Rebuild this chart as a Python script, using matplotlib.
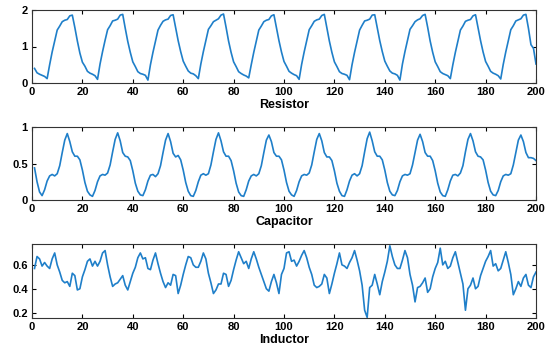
import matplotlib
matplotlib.use('Agg')
import matplotlib.pyplot as plt

# samples 1..200
samples = list(range(1, 201))

resistor = [
    0.40, 0.28, 0.24, 0.21, 0.18, 0.12, 0.50, 0.85, 1.15, 1.45, 1.56, 1.68, 1.72, 1.74, 1.84, 1.86, 1.52, 1.15, 0.82, 0.57,
    0.46, 0.32, 0.27, 0.24, 0.20, 0.10, 0.52, 0.86, 1.17, 1.46, 1.57, 1.70, 1.72, 1.75, 1.86, 1.88, 1.50, 1.14, 0.84, 0.58,
    0.45, 0.31, 0.26, 0.24, 0.21, 0.08, 0.50, 0.84, 1.15, 1.45, 1.58, 1.69, 1.73, 1.75, 1.85, 1.87, 1.52, 1.16, 0.86, 0.60,
    0.46, 0.33, 0.27, 0.25, 0.20, 0.12, 0.52, 0.86, 1.16, 1.47, 1.57, 1.68, 1.72, 1.76, 1.86, 1.89, 1.53, 1.15, 0.84, 0.58,
    0.45, 0.31, 0.26, 0.22, 0.19, 0.14, 0.50, 0.84, 1.15, 1.45, 1.56, 1.68, 1.72, 1.74, 1.84, 1.87, 1.52, 1.16, 0.85, 0.59,
    0.46, 0.32, 0.27, 0.23, 0.20, 0.10, 0.51, 0.85, 1.16, 1.46, 1.57, 1.69, 1.73, 1.75, 1.85, 1.88, 1.51, 1.15, 0.84, 0.58,
    0.45, 0.31, 0.26, 0.24, 0.21, 0.09, 0.50, 0.84, 1.15, 1.45, 1.58, 1.70, 1.72, 1.75, 1.86, 1.87, 1.52, 1.16, 0.86, 0.60,
    0.46, 0.33, 0.27, 0.25, 0.21, 0.08, 0.52, 0.86, 1.16, 1.47, 1.57, 1.68, 1.73, 1.76, 1.85, 1.88, 1.53, 1.15, 0.84, 0.58,
    0.45, 0.31, 0.26, 0.23, 0.20, 0.12, 0.50, 0.84, 1.15, 1.45, 1.56, 1.69, 1.72, 1.74, 1.84, 1.87, 1.52, 1.16, 0.85, 0.59,
    0.46, 0.32, 0.27, 0.24, 0.20, 0.11, 0.51, 0.85, 1.16, 1.46, 1.57, 1.70, 1.73, 1.76, 1.86, 1.88, 1.50, 1.05, 0.95, 0.52,
]

capacitor = [
    0.44, 0.25, 0.11, 0.06, 0.14, 0.26, 0.33, 0.35, 0.33, 0.36, 0.47, 0.65, 0.82, 0.91, 0.80, 0.66, 0.60, 0.60, 0.55, 0.41,
    0.24, 0.12, 0.07, 0.05, 0.13, 0.25, 0.33, 0.35, 0.34, 0.37, 0.48, 0.66, 0.83, 0.92, 0.81, 0.65, 0.60, 0.59, 0.54, 0.40,
    0.23, 0.12, 0.07, 0.06, 0.14, 0.26, 0.34, 0.35, 0.32, 0.36, 0.47, 0.65, 0.82, 0.91, 0.80, 0.64, 0.59, 0.61, 0.55, 0.41,
    0.24, 0.12, 0.06, 0.05, 0.13, 0.25, 0.34, 0.36, 0.34, 0.36, 0.48, 0.66, 0.83, 0.92, 0.81, 0.66, 0.60, 0.60, 0.54, 0.40,
    0.23, 0.11, 0.06, 0.05, 0.14, 0.26, 0.33, 0.35, 0.33, 0.36, 0.47, 0.65, 0.82, 0.89, 0.80, 0.65, 0.60, 0.60, 0.55, 0.41,
    0.24, 0.12, 0.07, 0.05, 0.13, 0.25, 0.33, 0.35, 0.34, 0.37, 0.48, 0.66, 0.83, 0.91, 0.81, 0.65, 0.59, 0.59, 0.54, 0.40,
    0.23, 0.12, 0.06, 0.05, 0.14, 0.26, 0.34, 0.36, 0.33, 0.36, 0.47, 0.66, 0.84, 0.93, 0.81, 0.66, 0.60, 0.60, 0.55, 0.41,
    0.24, 0.12, 0.07, 0.06, 0.13, 0.25, 0.33, 0.35, 0.34, 0.36, 0.48, 0.65, 0.82, 0.90, 0.80, 0.65, 0.60, 0.60, 0.54, 0.40,
    0.23, 0.11, 0.06, 0.05, 0.14, 0.26, 0.34, 0.35, 0.33, 0.37, 0.47, 0.66, 0.83, 0.91, 0.81, 0.66, 0.60, 0.59, 0.55, 0.41,
    0.24, 0.12, 0.07, 0.06, 0.13, 0.25, 0.33, 0.35, 0.34, 0.36, 0.48, 0.65, 0.82, 0.89, 0.80, 0.65, 0.58, 0.58, 0.57, 0.54,
]

inductor = [
    0.57, 0.67, 0.65, 0.59, 0.62, 0.59, 0.57, 0.65, 0.70, 0.60, 0.54, 0.47, 0.45, 0.46, 0.42, 0.53, 0.51, 0.39, 0.40, 0.50,
    0.56, 0.63, 0.65, 0.59, 0.63, 0.59, 0.63, 0.70, 0.72, 0.60, 0.50, 0.42, 0.44, 0.45, 0.48, 0.51, 0.43, 0.39, 0.46, 0.53,
    0.58, 0.66, 0.70, 0.65, 0.66, 0.57, 0.56, 0.64, 0.70, 0.61, 0.53, 0.46, 0.41, 0.45, 0.43, 0.52, 0.51, 0.36, 0.43, 0.52,
    0.60, 0.67, 0.66, 0.60, 0.58, 0.58, 0.63, 0.70, 0.65, 0.53, 0.45, 0.36, 0.39, 0.44, 0.44, 0.53, 0.52, 0.42, 0.47, 0.56,
    0.64, 0.71, 0.66, 0.61, 0.63, 0.57, 0.65, 0.71, 0.65, 0.58, 0.52, 0.46, 0.40, 0.38, 0.46, 0.52, 0.45, 0.36, 0.52, 0.57,
    0.70, 0.71, 0.63, 0.64, 0.59, 0.63, 0.68, 0.72, 0.66, 0.58, 0.52, 0.43, 0.41, 0.42, 0.44, 0.52, 0.49, 0.36, 0.44, 0.53,
    0.61, 0.70, 0.60, 0.59, 0.57, 0.62, 0.66, 0.72, 0.64, 0.55, 0.43, 0.22, 0.16, 0.41, 0.43, 0.52, 0.44, 0.35, 0.46, 0.54,
    0.63, 0.76, 0.67, 0.60, 0.57, 0.57, 0.64, 0.72, 0.66, 0.52, 0.43, 0.29, 0.41, 0.42, 0.45, 0.49, 0.37, 0.40, 0.50, 0.57,
    0.62, 0.74, 0.60, 0.63, 0.57, 0.59, 0.66, 0.71, 0.62, 0.53, 0.44, 0.22, 0.40, 0.43, 0.49, 0.40, 0.42, 0.51, 0.57, 0.63,
    0.67, 0.72, 0.59, 0.61, 0.55, 0.57, 0.64, 0.71, 0.62, 0.52, 0.35, 0.40, 0.46, 0.42, 0.49, 0.52, 0.43, 0.41, 0.50, 0.54,
]

names = ['Resistor', 'Capacitor', 'Inductor']
series = [resistor, capacitor, inductor]
yticks = [[0, 1, 2], [0, 0.5, 1], [0.2, 0.4, 0.6]]
ytick_labels = [['0', '1', '2'], ['0', '0.5', '1'], ['0.2', '0.4', '0.6']]
ylims = [(0, 2), (0, 1), (0.155, 0.775)]
xticks = list(range(0, 201, 20))

plt.rcParams['font.family'] = ['Liberation Sans', 'DejaVu Sans']

fig = plt.figure(figsize=(5.5, 3.55), dpi=100)
boxes = [
    [32/550, 1 - 83/355, 504/550, 73/355],
    [32/550, 1 - 200/355, 504/550, 73/355],
    [32/550, 1 - 318/355, 504/550, 74/355],
]

for box, name, y, yt, ytl, yl in zip(boxes, names, series, yticks, ytick_labels, ylims):
    ax = fig.add_axes(box)
    ax.plot(samples, y, color='#1f7fc9', linewidth=1.2)
    ax.set_xlim(0, 200)
    ax.set_ylim(*yl)
    ax.set_xticks(xticks)
    ax.set_xticklabels([str(t) for t in xticks], fontsize=8, fontweight='bold')
    ax.set_yticks(yt)
    ax.set_yticklabels(ytl, fontsize=8, fontweight='bold')
    ax.tick_params(direction='in', top=True, right=True, length=3, width=0.8, pad=3)
    ax.set_xlabel(name, fontsize=9, fontweight='bold', labelpad=1)
    for s in ax.spines.values():
        s.set_linewidth(0.8)
        s.set_color('#333333')

fig.savefig('out.png', dpi=100)
